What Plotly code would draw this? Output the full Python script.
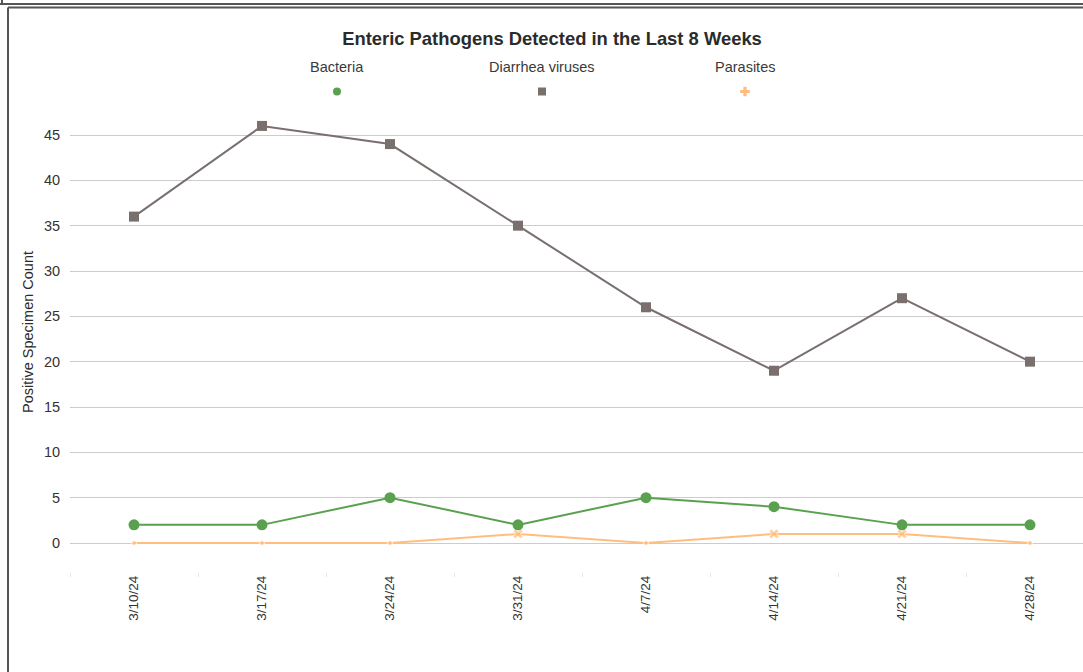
import plotly.graph_objects as go

weeks = ["3/10/24", "3/17/24", "3/24/24", "3/31/24", "4/7/24", "4/14/24", "4/21/24", "4/28/24"]
bacteria = [2, 2, 5, 2, 5, 4, 2, 2]
diarrhea_viruses = [36, 46, 44, 35, 26, 19, 27, 20]
parasites = [0, 0, 0, 1, 0, 1, 1, 0]
y_ticks = [0, 5, 10, 15, 20, 25, 30, 35, 40, 45]

GREEN = "#59a14f"
GRAY = "#79706e"
ORANGE = "#ffbe7d"
FONT = "Liberation Sans, Arial, sans-serif"

W, H = 1083, 672
L, R, T, B = 70, 0, 110, 100
pw, ph = W - L - R, H - T - B

def px_x(p):
    return (p - L) / pw

def px_y(p):
    return (H - B - p) / ph

fig = go.Figure()

fig.add_trace(go.Scatter(x=weeks, y=diarrhea_viruses, mode="lines+markers", name="Diarrhea viruses",
                         line=dict(color=GRAY, width=2),
                         marker=dict(symbol="square", size=10, color=GRAY), showlegend=False))
fig.add_trace(go.Scatter(x=weeks, y=parasites, mode="lines+markers", name="Parasites",
                         line=dict(color=ORANGE, width=2),
                         marker=dict(symbol=["x" if v > 0 else "circle" for v in parasites],
                                     size=[9 if v > 0 else 5 for v in parasites], color=ORANGE),
                         showlegend=False))
fig.add_trace(go.Scatter(x=weeks, y=bacteria, mode="lines+markers", name="Bacteria",
                         line=dict(color=GREEN, width=2),
                         marker=dict(symbol="circle", size=11, color=GREEN), showlegend=False))

# legend-only entries (marker only), each in its own legend; labels above as annotations
legend_specs = [("Bacteria", "circle", GREEN, 8, "legend", 337),
                ("Diarrhea viruses", "square", GRAY, 8, "legend2", 542),
                ("Parasites", "cross", ORANGE, 8, "legend3", 745)]
layout_legends = {}
annotations = []
for name, sym, col, sz, lg, cx in legend_specs:
    fig.add_trace(go.Scatter(x=[None], y=[None], mode="markers", name="",
                             marker=dict(symbol=sym, size=sz, color=col),
                             showlegend=True, legend=lg, hoverinfo="skip"))
    layout_legends[lg] = dict(
        x=px_x(cx - 20), xanchor="left", y=px_y(77), yanchor="top",
        bgcolor="rgba(0,0,0,0)", itemwidth=30, font=dict(size=10),
    )
    annotations.append(dict(text=name, xref="paper", yref="paper", x=px_x(cx), y=px_y(67),
                            xanchor="center", yanchor="middle", showarrow=False,
                            font=dict(family=FONT, size=14.5, color="#3a3a3a")))

annotations.append(dict(text="Positive Specimen Count", xref="paper", yref="paper",
                        x=px_x(28), y=px_y(332), xanchor="center", yanchor="middle",
                        textangle=-90, showarrow=False,
                        font=dict(family=FONT, size=14.5, color="#2b2b2b")))

frame_color = "#555555"
shapes = [
    dict(type="line", xref="paper", yref="paper", x0=px_x(0), x1=px_x(W), y0=px_y(4), y1=px_y(4),
         line=dict(color=frame_color, width=2)),
    dict(type="line", xref="paper", yref="paper", x0=px_x(2), x1=px_x(2), y0=px_y(0), y1=px_y(4),
         line=dict(color=frame_color, width=2)),
    dict(type="line", xref="paper", yref="paper", x0=px_x(8), x1=px_x(W), y0=px_y(7.5), y1=px_y(7.5),
         line=dict(color=frame_color, width=2)),
    dict(type="line", xref="paper", yref="paper", x0=px_x(8), x1=px_x(8), y0=px_y(7.5), y1=px_y(H),
         line=dict(color=frame_color, width=2)),
]

fig.update_layout(
    width=W, height=H,
    margin=dict(l=L, r=R, t=T, b=B, autoexpand=False),
    paper_bgcolor="white", plot_bgcolor="white",
    font=dict(family=FONT, size=14.5, color="#3a3a3a"),
    title=dict(text="<b>Enteric Pathogens Detected in the Last 8 Weeks</b>",
               x=px_x(552), xref="paper", xanchor="center",
               y=1 - 39 / H, yanchor="middle",
               font=dict(family=FONT, size=18.4, color="#2b2b2b")),
    shapes=shapes,
    annotations=annotations,
    **layout_legends,
)

fig.update_xaxes(
    type="category", categoryorder="array", categoryarray=weeks,
    range=[-0.5, (W - 134) / 128], tickangle=-90, tickson="boundaries",
    ticks="outside", ticklen=4, tickcolor="#e6e6e6", showline=False, showgrid=False,
    tickfont=dict(family=FONT, size=13.5, color="#333"), zeroline=False,
)
fig.update_yaxes(
    range=[-(572 - 543) / (408 / 45), (543 - 110) / (408 / 45)],
    tickvals=y_ticks, showgrid=True, gridcolor="#cccccc", gridwidth=1,
    zeroline=False, showline=False, ticks="outside", ticklen=6, tickcolor="rgba(0,0,0,0)",
    tickfont=dict(family=FONT, size=14.5, color="#333"),
)

fig.write_html("out.html", config={"displayModeBar": False},
               post_script="document.body.style.margin='0';document.body.style.overflow='hidden';")
